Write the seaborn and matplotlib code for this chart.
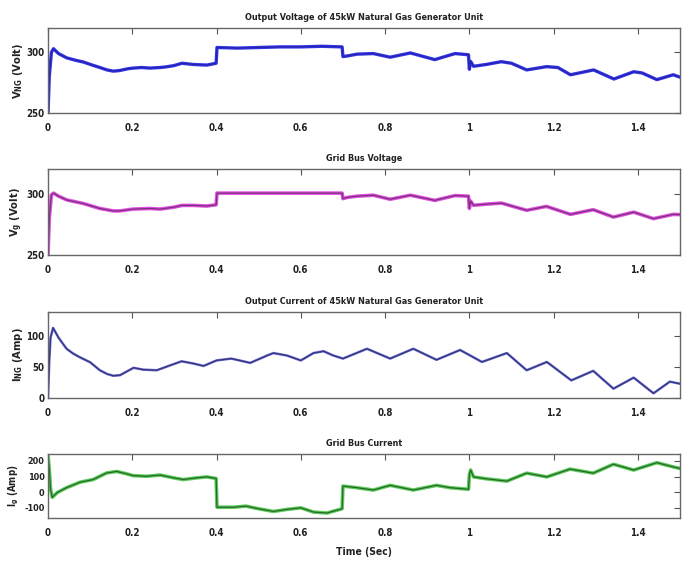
import matplotlib
matplotlib.use("Agg")
import matplotlib.pyplot as plt
import seaborn as sns
import pandas as pd

# ---- series data ----
t_vng = [0, 0.003, 0.008, 0.013, 0.025, 0.044, 0.065, 0.084, 0.105, 0.123, 0.14, 0.155,
         0.17, 0.19, 0.202, 0.222, 0.242, 0.266, 0.28, 0.298, 0.318, 0.345, 0.377, 0.399,
         0.401, 0.45, 0.5, 0.55, 0.6, 0.65, 0.698, 0.7, 0.71, 0.733, 0.772, 0.812, 0.86,
         0.918, 0.966, 0.998, 1.0, 1.003, 1.01, 1.04, 1.076, 1.1, 1.136, 1.183, 1.21, 1.24,
         1.295, 1.343, 1.39, 1.41, 1.445, 1.484, 1.5]
v_ng = [250, 280, 300, 303, 299, 295.5, 293.5, 292, 289.5, 287.5, 285.5, 284.5,
        285, 286.5, 287, 287.5, 287, 287.5, 288, 289, 291, 290, 289.5, 291,
        304, 303.5, 304, 304.5, 304.5, 305, 304.5, 296.5, 297, 298.5, 299, 296, 299.5,
        294, 299, 298, 286, 292.5, 288.5, 290, 292.3, 291, 285.5, 288.2, 287.5, 281.5,
        285.5, 278, 284, 283, 277.5, 281.5, 279.5]

t_vg = [0, 0.003, 0.008, 0.013, 0.025, 0.044, 0.084, 0.123, 0.155, 0.17, 0.202, 0.242,
        0.266, 0.298, 0.318, 0.345, 0.377, 0.399, 0.401, 0.45, 0.5, 0.6, 0.698, 0.7, 0.71,
        0.733, 0.772, 0.812, 0.86, 0.918, 0.966, 0.998, 1.0, 1.003, 1.01, 1.04, 1.076,
        1.136, 1.183, 1.24, 1.294, 1.342, 1.39, 1.437, 1.484, 1.5]
v_g = [250, 280, 299, 300.5, 298, 295, 292, 288, 286, 286, 287.5, 288,
       287.5, 289, 290.5, 290.5, 290, 291, 300.5, 300.5, 300.5, 300.5, 300.5, 296, 297,
       298, 298.8, 295.5, 298.8, 294.6, 298.5, 298, 288, 294, 290.6, 291.5, 292.4,
       286.5, 289.7, 283.2, 287, 281, 285, 279.7, 283.2, 283]

t_ing = [0, 0.003, 0.006, 0.012, 0.025, 0.044, 0.06, 0.076, 0.1, 0.123, 0.14, 0.155,
         0.171, 0.203, 0.226, 0.258, 0.29, 0.317, 0.345, 0.369, 0.4, 0.435, 0.48, 0.52,
         0.535, 0.567, 0.6, 0.63, 0.654, 0.677, 0.7, 0.757, 0.812, 0.867, 0.922, 0.978,
         1.03, 1.089, 1.136, 1.184, 1.242, 1.294, 1.342, 1.39, 1.437, 1.476, 1.5]
i_ng = [0, 60, 98, 114, 98, 80, 72, 66, 58, 45, 39, 36,
        37, 49, 46, 45, 53, 59.6, 56, 52, 61, 64, 57, 69,
        73, 69, 61, 73, 76, 69, 64, 80, 64, 80, 62, 78,
        58.5, 73, 45, 58.5, 28.5, 44, 15, 33, 7.5, 26.5, 23]

t_ig = [0, 0.003, 0.006, 0.01, 0.015, 0.022, 0.044, 0.076, 0.107, 0.139, 0.163, 0.186,
        0.202, 0.234, 0.266, 0.298, 0.321, 0.353, 0.377, 0.399, 0.401, 0.44, 0.47, 0.5,
        0.535, 0.567, 0.6, 0.63, 0.662, 0.698, 0.7, 0.733, 0.772, 0.812, 0.867, 0.922,
        0.954, 0.998, 1.0, 1.003, 1.01, 1.04, 1.089, 1.136, 1.184, 1.239, 1.294, 1.342,
        1.39, 1.445, 1.484, 1.5]
i_g = [237, 150, 20, -33, -20, -2, 29, 64, 81, 123, 133, 118,
       106, 102, 110, 92, 81, 92, 98, 88, -96, -96, -89, -106,
       -123, -110, -100, -127, -133, -106, 39, 29, 14, 44, 14, 44,
       29, 19, 112, 142, 98, 86, 71, 122, 98, 148, 122, 179,
       142, 189, 162, 152]

titles = ["Output Voltage of 45kW Natural Gas Generator Unit",
          "Grid Bus Voltage",
          "Output Current of 45kW Natural Gas Generator Unit",
          "Grid Bus Current"]
ylabels = [r"$\mathbf{V_{NG}}$ (Volt)", r"$\mathbf{V_{g}}$ (Volt)",
           r"$\mathbf{I_{NG}}$ (Amp)", r"$\mathbf{I_{g}}$ (Amp)"]
xticks = [0, 0.2, 0.4, 0.6, 0.8, 1.0, 1.2, 1.4]
xticklabels = ["0", "0.2", "0.4", "0.6", "0.8", "1", "1.2", "1.4"]
yticks = [[250, 300], [250, 300], [0, 50, 100], [-100, 0, 100, 200]]
ylims = [(250, 320), (250, 320), (0, 140), (-165, 245)]

sns.set_style("white")
plt.rcParams["font.family"] = ["DejaVu Sans"]
plt.rcParams["font.stretch"] = "condensed"
plt.rcParams["mathtext.fontset"] = "custom"
plt.rcParams["mathtext.bf"] = "DejaVu Sans:bold:stretch=condensed"
plt.rcParams["mathtext.rm"] = "DejaVu Sans:stretch=condensed"

fig = plt.figure(figsize=(6.88, 5.62), dpi=100)
fig.patch.set_facecolor("white")

# axes rectangles [left, bottom, width, height]
rects = [[0.0698, 0.799, 0.9186, 0.151],
         [0.0698, 0.546, 0.9186, 0.153],
         [0.0698, 0.292, 0.9186, 0.153],
         [0.0698, 0.0783, 0.9186, 0.114]]

series = [(t_vng, v_ng, "#3535e6", 2.4, "#2020a8", 0.9),
          (t_vg, v_g, "#e050e0", 2.6, "#6a2a6a", 0.9),
          (t_ing, i_ng, "#6a6ae0", 1.8, "#2e2e5e", 0.9),
          (t_ig, i_g, "#5ccc5c", 2.6, "#1e561e", 0.9)]

ylabel_size = [8, 8, 8, 7]
ytick_size = [7, 7, 7, 6.5]
ylabel_x = [-0.036, -0.036, -0.036, -0.042]

for k in range(4):
    ax = fig.add_axes(rects[k])
    t, y, c_wide, w_wide, c_thin, w_thin = series[k]
    df = pd.DataFrame({"t": t, "y": y})
    sns.lineplot(data=df, x="t", y="y", ax=ax, color=c_wide, linewidth=w_wide,
                 estimator=None, sort=False)
    sns.lineplot(data=df, x="t", y="y", ax=ax, color=c_thin, linewidth=w_thin,
                 estimator=None, sort=False, alpha=0.85)
    ax.set_xlim(0, 1.5)
    ax.set_ylim(*ylims[k])
    ax.set_xticks(xticks)
    ax.set_xticklabels(xticklabels)
    ax.set_yticks(yticks[k])
    ax.set_yticklabels([str(v) for v in yticks[k]])
    ax.tick_params(direction="in", length=4, width=0.8, color="#555555",
                   top=True, right=True, labelcolor="#222222")
    ax.tick_params(axis="x", labelsize=7, pad=7)
    ax.tick_params(axis="y", labelsize=ytick_size[k], pad=2.5)
    for lab in ax.get_xticklabels() + ax.get_yticklabels():
        lab.set_fontweight("bold")
    for sp in ax.spines.values():
        sp.set_visible(True)
        sp.set_color("#666666")
        sp.set_linewidth(1.0)
    ax.set_title(titles[k], fontsize=6.5, fontweight="bold", pad=6, color="#222222")
    ax.set_ylabel(ylabels[k], fontsize=ylabel_size[k], fontweight="bold", color="#222222")
    ax.yaxis.set_label_coords(ylabel_x[k], 0.5)
    if k == 3:
        ax.set_xlabel("Time (Sec)", fontsize=7.5, fontweight="bold", color="#222222",
                      labelpad=7)
    else:
        ax.set_xlabel("")

fig.savefig("out.png", dpi=100, facecolor="white")
